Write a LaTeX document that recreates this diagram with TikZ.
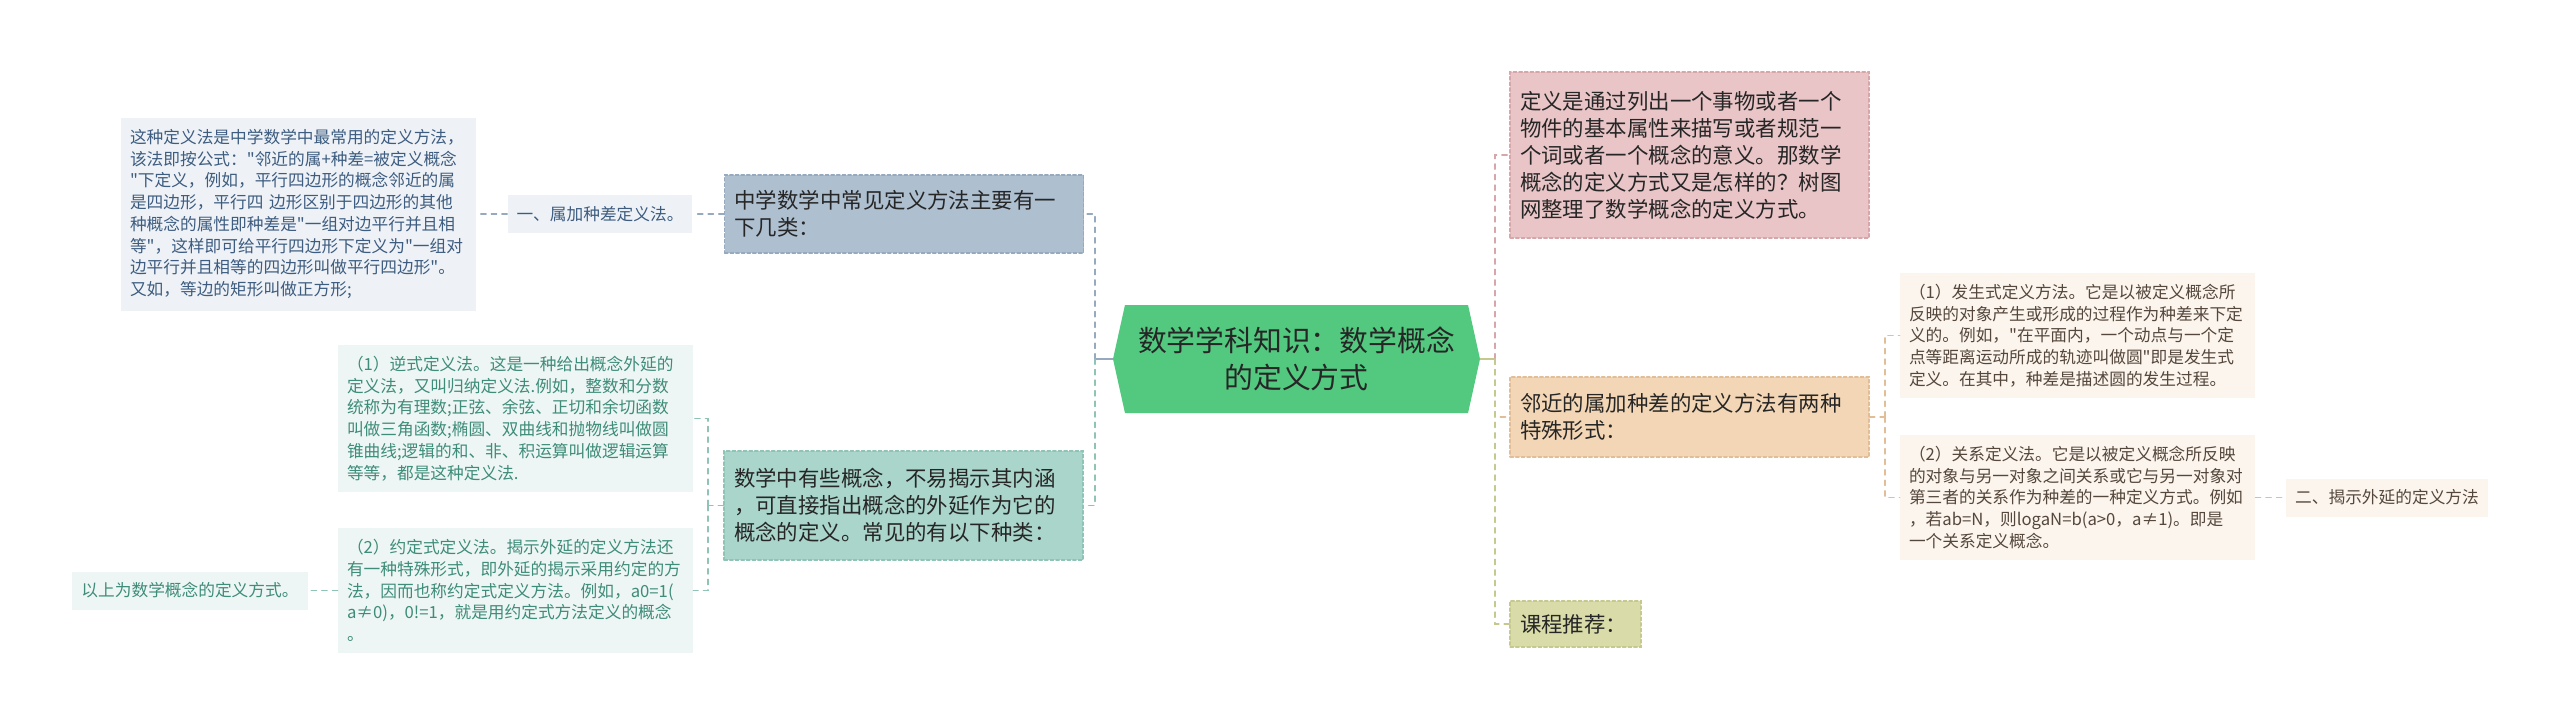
\documentclass[tikz,border=0pt]{standalone}
\usepackage{fontspec}
\newfontfamily\cjkfont{Noto Sans CJK SC}
\usepackage{tikz}
\usetikzlibrary{shapes.symbols}
\definecolor{hubgreen}{HTML}{52C97F}
\definecolor{boxA}{HTML}{AEBFD0}
\definecolor{boxAline}{HTML}{97A9BE}
\definecolor{leafA}{HTML}{EEF2F6}
\definecolor{leafAtext}{HTML}{3D5C80}
\definecolor{boxB}{HTML}{A9D5CB}
\definecolor{boxBline}{HTML}{8EC3B6}
\definecolor{leafB}{HTML}{EDF6F4}
\definecolor{leafBtext}{HTML}{3E8C79}
\definecolor{boxC}{HTML}{E9C5C7}
\definecolor{boxCline}{HTML}{D6A6AA}
\definecolor{boxD}{HTML}{F3D6B5}
\definecolor{boxDline}{HTML}{E2BE98}
\definecolor{leafD}{HTML}{FBF5ED}
\definecolor{leafDtext}{HTML}{55473C}
\definecolor{boxE}{HTML}{D9DCA9}
\definecolor{boxEline}{HTML}{C5C98E}

\begin{document}
\begin{tikzpicture}[line cap=round,
  font=\cjkfont\fontsize{9.5}{12.35}\selectfont,
  hub/.style={signal,signal to=east and west,signal pointer angle=155,fill=hubgreen,
    text=black!85,align=center,minimum width=7.34cm,minimum height=2.16cm,
    font=\cjkfont\fontsize{16.4}{20.9}\selectfont},
  topic/.style={rectangle,align=left,inner xsep=0.2cm,inner ysep=0pt,text width=6.78cm,
    minimum width=7.18cm,text=black!85,line width=0.6pt,dash pattern=on 2pt off 1.2pt,
    font=\cjkfont\fontsize{12.2}{15.4}\selectfont},
  detail/.style={rectangle,align=left,inner xsep=0.18cm,inner ysep=0pt,text width=6.74cm,
    minimum width=7.10cm},
  leaf/.style={rectangle,inner xsep=0.18cm,inner ysep=0pt,minimum height=0.76cm},
  link/.style={line width=0.8pt,dash pattern=on 3pt off 3pt},
  stem/.style={line width=0.8pt}]
\useasboundingbox[fill=white] (0,0) rectangle (51.2,-14.52);

% centre
\node[hub] (hex) at (25.93,-7.18) {数学学科知识：数学概念\\的定义方式};

% left branch
\node[topic,fill=boxA,draw=boxAline,minimum height=1.56cm] (A) at (18.08,-4.28)
  {中学数学中常见定义方法主要有一\\下几类：};
\node[leaf,fill=leafA,text=leafAtext] (lblA) at (12.00,-4.28) {一、属加种差定义法。};
\node[detail,fill=leafA,text=leafAtext,minimum height=3.86cm] (bigA) at (5.97,-4.28)
  {这种定义法是中学数学中最常用的定义方法，\\该法即按公式："邻近的属+种差=被定义概念\\"下定义，例如，平行四边形的概念邻近的属\\是四边形，平行四 边形区别于四边形的其他\\种概念的属性即种差是"一组对边平行并且相\\等"，这样即可给平行四边形下定义为"一组对\\边平行并且相等的四边形叫做平行四边形"。\\又如，等边的矩形叫做正方形;};
\node[topic,fill=boxB,draw=boxBline,minimum height=2.18cm] (B) at (18.07,-10.11)
  {数学中有些概念，不易揭示其内涵\\，可直接指出概念的外延作为它的\\概念的定义。常见的有以下种类：};
\node[detail,fill=leafB,text=leafBtext,minimum height=2.94cm] (B1) at (10.31,-8.37)
  {（1）逆式定义法。这是一种给出概念外延的\\定义法，又叫归纳定义法.例如，整数和分数\\统称为有理数;正弦、余弦、正切和余切函数\\叫做三角函数;椭圆、双曲线和抛物线叫做圆\\锥曲线;逻辑的和、非、积运算叫做逻辑运算\\等等，都是这种定义法.};
\node[detail,fill=leafB,text=leafBtext,minimum height=2.50cm] (B2) at (10.31,-11.81)
  {（2）约定式定义法。揭示外延的定义方法还\\有一种特殊形式，即外延的揭示采用约定的方\\法，因而也称约定式定义方法。例如，a0=1(\\a≠0)，0!=1，就是用约定式方法定义的概念\\。};
\node[leaf,fill=leafB,text=leafBtext] (leafB) at (3.80,-11.81) {以上为数学概念的定义方式。};

% right branch
\node[topic,fill=boxC,draw=boxCline,minimum height=3.32cm] (C) at (33.79,-3.10)
  {定义是通过列出一个事物或者一个\\物件的基本属性来描写或者规范一\\个词或者一个概念的意义。那数学\\概念的定义方式又是怎样的？树图\\网整理了数学概念的定义方式。};
\node[topic,fill=boxD,draw=boxDline,minimum height=1.60cm] (D) at (33.79,-8.34)
  {邻近的属加种差的定义方法有两种\\特殊形式：};
\node[topic,fill=boxE,draw=boxEline,minimum height=0.92cm,text width=2.22cm,
  minimum width=2.62cm] (E) at (31.51,-12.48) {课程推荐：};
\node[detail,fill=leafD,text=leafDtext,minimum height=2.50cm] (D1) at (41.55,-6.71)
  {（1）发生式定义方法。它是以被定义概念所\\反映的对象产生或形成的过程作为种差来下定\\义的。例如，"在平面内，一个动点与一个定\\点等距离运动所成的轨迹叫做圆"即是发生式\\定义。在其中，种差是描述圆的发生过程。};
\node[detail,fill=leafD,text=leafDtext,minimum height=2.50cm] (D2) at (41.55,-9.95)
  {（2）关系定义法。它是以被定义概念所反映\\的对象与另一对象之间关系或它与另一对象对\\第三者的关系作为种差的一种定义方式。例如\\，若ab=N，则logaN=b(a>0，a≠1)。即是\\一个关系定义概念。};
\node[leaf,fill=leafD,text=leafDtext] (leafD) at (47.74,-9.95) {二、揭示外延的定义方法};

% connectors
\coordinate (ls) at (21.90,-7.18);
\coordinate (bs) at (14.16,-10.11);
\coordinate (rs) at (29.90,-7.18);
\coordinate (ds) at (37.70,-8.34);
\draw[stem,boxAline] (hex.west) -- (ls);
\draw[link,boxAline] (ls) |- (A.east);
\draw[link,boxBline] (ls) |- (B.east);
\draw[link,boxAline] (A.west) -- (lblA.east);
\draw[link,boxAline] (lblA.west) -- (bigA.east);
\draw[link,boxBline] (B.west) -- (bs);
\draw[link,boxBline] (bs) |- (B1.east);
\draw[link,boxBline] (bs) |- (B2.east);
\draw[link,boxBline] (B2.west) -- (leafB.east);
\draw[stem,boxEline] (hex.east) -- (rs);
\draw[link,boxCline] (rs) |- (C.west);
\draw[link,boxDline] (rs) |- (D.west);
\draw[link,boxEline] (rs) |- (E.west);
\draw[link,boxDline] (D.east) -- (ds);
\draw[link,boxDline] (ds) |- (D1.west);
\draw[link,boxDline] (ds) |- (D2.west);
\draw[link,boxDline] (D2.east) -- (leafD.west);
\end{tikzpicture}
\end{document}
